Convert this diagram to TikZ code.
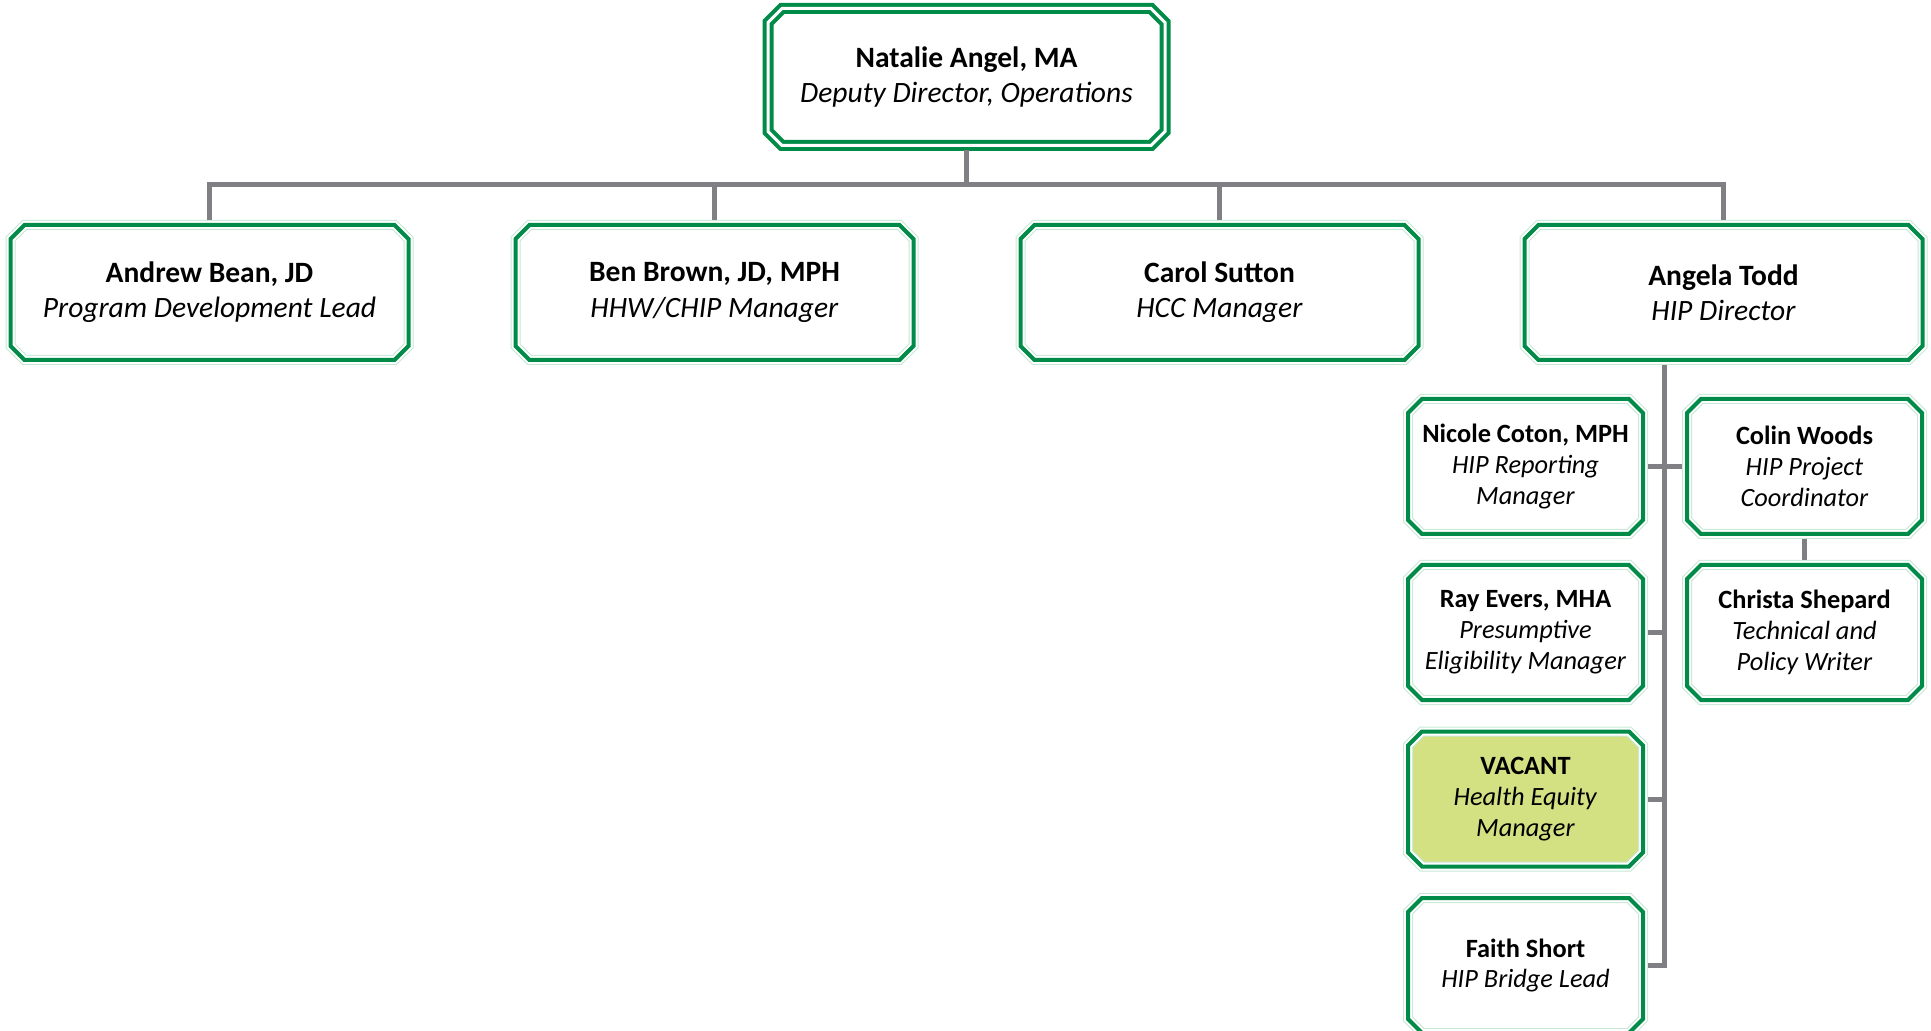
\documentclass[tikz,border=0pt]{standalone}
\usepackage{fontspec}
\setmainfont{Carlito}
\usetikzlibrary{shapes}
\usetikzlibrary{positioning}
\definecolor{boxgreen}{RGB}{0,140,72}
\definecolor{palegreen}{RGB}{200,232,214}
\definecolor{linkgray}{RGB}{128,128,132}
\definecolor{vacantfill}{RGB}{211,225,130}
\tikzset{
    boss/.style = {chamfered rectangle, chamfered rectangle sep=0.07cm, minimum width=3.97cm, minimum height=1.37cm, inner sep=0pt, outer sep=0.05cm, fill=white, align=center, postaction={draw=boxgreen,line width=0.11cm}, postaction={draw=white,line width=0.03cm}, font=\fontsize{8.4}{10}\selectfont},
    lead/.style = {chamfered rectangle, chamfered rectangle sep=0.07cm, minimum width=3.98cm, minimum height=1.35cm, inner sep=0pt, outer sep=0.05cm, fill=white, align=center, postaction={draw=palegreen,line width=0.10cm}, postaction={draw=white,line width=0.08cm}, postaction={draw=boxgreen,line width=0.04cm}, font=\fontsize{8.4}{10}\selectfont},
    staff/.style = {lead, minimum width=2.35cm, font=\fontsize{7.5}{8.8}\selectfont},
    vacant/.style = {staff, fill=vacantfill},
    link/.style = {linkgray, line width=0.05cm, line join=miter},
}

\begin{document}
\begin{tikzpicture}
\useasboundingbox (0,0) rectangle (19.31,-10.31);
%
\node[boss] at (9.665,-0.77) (natalie) {\textbf{Natalie Angel, MA}\\\textit{Deputy Director, Operations}};
\node[lead] at (2.095,-2.925) (andrew) {\textbf{Andrew Bean, JD}\\\textit{Program Development Lead}};
\node[lead] at (7.145,-2.925) (ben) {\textbf{Ben Brown, JD, MPH}\\\textit{HHW/CHIP Manager}};
\node[lead] at (12.195,-2.925) (carol) {\textbf{Carol Sutton}\\\textit{HCC Manager}};
\node[lead] at (17.235,-2.925) (angela) {\textbf{Angela Todd}\\\textit{HIP Director}};
\node[staff] at (15.255,-4.665) (nicole) {\textbf{Nicole Coton, MPH}\\\textit{HIP Reporting}\\\textit{Manager}};
\node[staff] at (18.045,-4.665) (colin) {\textbf{Colin Woods}\\\textit{HIP Project}\\\textit{Coordinator}};
\node[staff] at (15.255,-6.325) (ray) {\textbf{Ray Evers, MHA}\\\textit{Presumptive}\\\textit{Eligibility Manager}};
\node[staff] at (18.045,-6.325) (christa) {\textbf{Christa Shepard}\\\textit{Technical and}\\\textit{Policy Writer}};
\node[vacant] at (15.255,-7.99) (vac) {\textbf{VACANT}\\\textit{Health Equity}\\\textit{Manager}};
\node[staff] at (15.255,-9.655) (faith) {\textbf{Faith Short}\\\textit{HIP Bridge Lead}};
%
\coordinate (bus) at (9.665,-1.85);
\coordinate (trunk) at ([xshift=-0.595cm]angela.south);
%
\draw[link] (natalie.south) -- (bus);
\draw[link] (andrew.north) |- (bus) -| (angela.north);
\draw[link] (ben.north) -- (ben.north |- bus);
\draw[link] (carol.north) -- (carol.north |- bus);
\draw[link] (trunk) |- (faith.east);
\draw[link] (nicole.east) -- (colin.west);
\draw[link] (ray.east) -- (ray.east -| trunk);
\draw[link] (vac.east) -- (vac.east -| trunk);
\draw[link] (colin.south) -- (christa.north);
\end{tikzpicture}
\end{document}
